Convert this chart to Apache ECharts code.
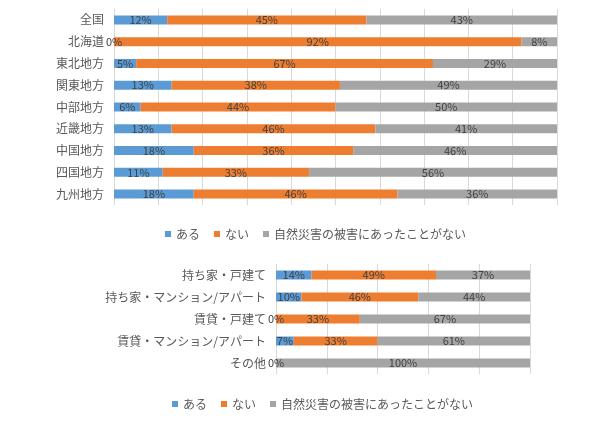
<!DOCTYPE html>
<html>
<head>
<meta charset="utf-8">
<script src="https://cdn.jsdelivr.net/npm/echarts@6/dist/echarts.min.js"></script>
<style>
  html, body { margin: 0; padding: 0; background: #fff; }
  #main { width: 616px; height: 425px; }
</style>
</head>
<body>
<div id="main"></div>
<script>
var regions = ['全国', '北海道', '東北地方', '関東地方', '中部地方', '近畿地方', '中国地方', '四国地方', '九州地方'];
var regionAru = [12, 0, 5, 13, 6, 13, 18, 11, 18];
var regionNai = [45, 92, 67, 38, 44, 46, 36, 33, 46];
var regionNone = [43, 8, 29, 49, 50, 41, 46, 56, 36];

var housing = ['持ち家・戸建て', '持ち家・マンション/アパート', '賃貸・戸建て', '賃貸・マンション/アパート', 'その他'];
var houseAru = [14, 10, 0, 7, 0];
var houseNai = [49, 46, 33, 33, null];
var houseNone = [37, 44, 67, 61, 100];

var legendNames = ['ある', 'ない', '自然災害の被害にあったことがない'];
var colors = ['#5B9BD5', '#ED7D31', '#A5A5A5'];

var chart = echarts.init(document.getElementById('main'));

var font = '"Noto Sans CJK JP", sans-serif';

function xAxisOf(idx, step) {
  return {
    type: 'value', gridIndex: idx, min: 0, max: 100, interval: step,
    axisLabel: { show: false },
    axisLine: { show: false },
    axisTick: { show: false },
    splitLine: { show: true, lineStyle: { color: '#D9D9D9', width: 1 } }
  };
}

function yAxisOf(idx, cats) {
  return {
    type: 'category', gridIndex: idx, data: cats, inverse: true,
    axisLine: { show: false },
    axisTick: { show: false },
    axisLabel: { color: '#595959', fontSize: 12, fontFamily: font, margin: 10 }
  };
}

function seriesOf(idx, name, data, color, bw) {
  return {
    name: name, type: 'bar', stack: 's' + idx,
    xAxisIndex: idx, yAxisIndex: idx,
    data: data, barWidth: bw,
    itemStyle: { color: color },
    label: {
      show: true, position: 'inside', formatter: '{c}%',
      color: '#404040', fontSize: 11, fontFamily: font
    }
  };
}

function legendOf(top, left) {
  return {
    data: legendNames, top: top, left: left,
    icon: 'rect', itemWidth: 6, itemHeight: 6, itemGap: 14,
    textStyle: { color: '#595959', fontSize: 12, fontFamily: font }
  };
}

var option = {
  backgroundColor: '#fff',
  animation: false,
  legend: [legendOf(223, 160), legendOf(393, 167)],
  grid: [
    { left: 114, right: 59, top: 9, height: 196 },
    { left: 276, right: 86, top: 264, height: 110 }
  ],
  xAxis: [xAxisOf(0, 10), xAxisOf(1, 20)],
  yAxis: [yAxisOf(0, regions), yAxisOf(1, housing)],
  series: [
    seriesOf(0, legendNames[0], regionAru, colors[0], 9),
    seriesOf(0, legendNames[1], regionNai, colors[1], 9),
    seriesOf(0, legendNames[2], regionNone, colors[2], 9),
    seriesOf(1, legendNames[0], houseAru, colors[0], 9),
    seriesOf(1, legendNames[1], houseNai, colors[1], 9),
    seriesOf(1, legendNames[2], houseNone, colors[2], 9)
  ]
};

chart.setOption(option);
</script>
</body>
</html>
